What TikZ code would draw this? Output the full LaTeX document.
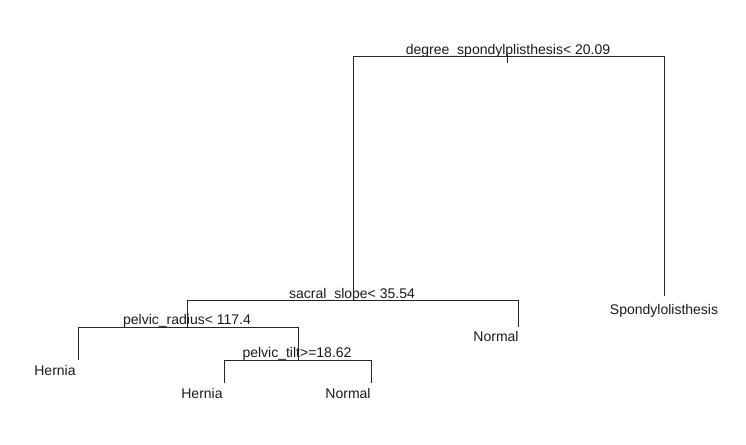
\documentclass[tikz,border=0pt]{standalone}
\usepackage{fontspec}
\setmainfont{Liberation Sans}
\begin{document}
\begin{tikzpicture}[x=1pt,y=-1pt,
  lbl/.style={font=\fontsize{14}{15}\selectfont, text=black!90, inner sep=0pt, anchor=base},
  edge/.style={draw=black!85, line width=1pt}]
\useasboundingbox (0,0) rectangle (746,444);
% labels
\node[lbl] (root) at (508,55) {degree\_spondylplisthesis< 20.09};
\node[lbl] (sacral) at (352,298) {sacral\_slope< 35.54};
\node[lbl] (radius) at (187,324) {pelvic\_radius< 117.4};
\node[lbl] (tilt) at (297,357) {pelvic\_tilt>=18.62};
\node[lbl] (spondy) at (664,314) {Spondylolisthesis};
\node[lbl] (normal1) at (496,341) {Normal};
\node[lbl] (hernia1) at (55,375) {Hernia};
\node[lbl] (hernia2) at (202,398) {Hernia};
\node[lbl] (normal2) at (348,398) {Normal};
% branch points
\coordinate (rt) at (507,54);
\coordinate (rb) at (507,63);
\coordinate (rl) at (353,57);
\coordinate (rr) at (664,57);
\coordinate (rre) at (664,296);
\coordinate (sl) at (187,300);
\coordinate (sm) at (353,300);
\coordinate (sr) at (518,300);
\coordinate (sre) at (518,327);
\coordinate (pl) at (78,327);
\coordinate (pm) at (187,327);
\coordinate (pr) at (298,327);
\coordinate (ple) at (78,360);
\coordinate (tm) at (298,360);
\coordinate (tl) at (224,360);
\coordinate (tr) at (371,360);
\coordinate (tle) at (224,383);
\coordinate (tre) at (371,383);
% tree edges
\draw[edge] (rt) -- (rb);
\draw[edge] (sm) -- (rl) -- (rr) -- (rre);
\draw[edge] (pm) -- (sl) -- (sr) -- (sre);
\draw[edge] (ple) -- (pl) -- (pr) -- (tm);
\draw[edge] (tle) -- (tl) -- (tr) -- (tre);
\end{tikzpicture}
\end{document}
